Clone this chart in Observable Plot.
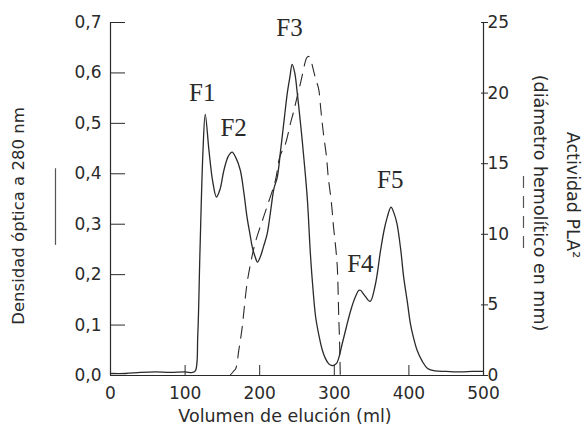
<!DOCTYPE html>
<html>
<head>
<meta charset="utf-8">
<script src="https://cdn.jsdelivr.net/npm/d3@7"></script>
<script src="https://cdn.jsdelivr.net/npm/@observablehq/plot@0.6"></script>
<style>
  html, body { margin: 0; padding: 0; background: #fff; }
  svg { display: block; }
</style>
</head>
<body>
<div id="chart"></div>
<script>
// Absorbance (Densidad óptica a 280 nm) — solid line
const volAbs = [0, 20, 40, 60, 80, 100, 110, 114, 117, 120, 124, 127, 132, 137, 142, 147, 152, 158, 163, 168, 174, 179, 183, 187, 190, 194, 197, 201, 205, 210, 215, 219, 223.5, 228, 233, 237, 240.5, 243.5, 247, 250, 254, 257, 260.5, 264, 268, 271.5, 275, 280, 284, 288, 292.6, 296, 299, 303, 306, 310.6, 316, 322, 328, 333, 335, 341, 348, 355, 362, 367, 371, 376, 380, 384, 389, 393, 398, 402, 406, 411, 418, 425, 435, 450, 470, 485, 500];
const absorb = [0.004, 0.004, 0.006, 0.007, 0.006, 0.007, 0.006, 0.01, 0.08, 0.25, 0.446, 0.518, 0.446, 0.385, 0.354, 0.37, 0.407, 0.435, 0.443, 0.432, 0.407, 0.36, 0.314, 0.28, 0.255, 0.235, 0.225, 0.236, 0.255, 0.281, 0.33, 0.37, 0.393, 0.446, 0.51, 0.56, 0.592, 0.617, 0.6, 0.565, 0.51, 0.466, 0.41, 0.347, 0.24, 0.17, 0.116, 0.075, 0.05, 0.034, 0.023, 0.02, 0.02, 0.024, 0.035, 0.063, 0.095, 0.129, 0.155, 0.169, 0.169, 0.158, 0.147, 0.18, 0.248, 0.29, 0.314, 0.334, 0.322, 0.301, 0.25, 0.195, 0.145, 0.103, 0.076, 0.05, 0.028, 0.014, 0.009, 0.008, 0.007, 0.008, 0.008];

// PLA2 activity (diámetro hemolítico en mm) — dashed line
const volAct = [160, 165, 168, 172, 176, 183, 188, 194, 205, 212, 221, 227, 234.5, 241, 246, 250, 256, 260.5, 263, 265.5, 268, 271.7, 275, 279, 282, 285.5, 289.5, 292, 296, 299, 302, 304, 306, 307, 308];
const activity = [0, 0.3, 0.5, 1.8, 3.2, 6.5, 8.0, 9.4, 11.2, 12.3, 13.8, 15.5, 16.4, 17.8, 18.8, 19.7, 21.0, 22.1, 22.5, 22.6, 22.4, 21.7, 21.0, 20.3, 18.8, 17.1, 15.5, 14.0, 12.3, 10.5, 9.0, 7.7, 4.1, 2.5, 0];

// Axis ticks and labels
const xTicks = [0, 100, 200, 300, 400, 500];
const yLeftTicks = [0, 0.1, 0.2, 0.3, 0.4, 0.5, 0.6, 0.7];
const yRightTicks = [0, 5, 10, 15, 20, 25];
const peakNames = ["F1", "F2", "F3", "F4", "F5"];
const peakVol = [123, 165, 240, 335, 375];
const peakAbs = [0.56, 0.49, 0.69, 0.222, 0.387];

const yMax = 0.7, actMax = 25;
const toLeft = v => v * yMax / actMax;

const absData = volAbs.map((v, i) => ({vol: v, y: absorb[i]}));
const actData = volAct.map((v, i) => ({vol: v, y: toLeft(activity[i])}));
const peaks = peakNames.map((n, i) => ({name: n, vol: peakVol[i], y: peakAbs[i]}));

const ink = "#2a2a2a";
const sans = "'DejaVu Sans', Verdana, sans-serif";
const comma = d => d3.format(".1f")(d).replace(".", ",");

const chart = Plot.plot({
  width: 585,
  height: 427,
  marginLeft: 110,
  marginRight: 102,
  marginTop: 22,
  marginBottom: 52,
  style: {fontFamily: sans, color: ink, background: "#fff"},
  x: {domain: [0, 500]},
  y: {domain: [0, yMax]},
  marks: [
    // frame lines
    Plot.ruleX([0, 500], {stroke: ink, strokeWidth: 1.2}),
    Plot.ruleY([0], {stroke: ink, strokeWidth: 1.2}),
    // x axis: inward ticks + labels
    Plot.axisX({ticks: xTicks, tickSize: -10, tickFormat: () => "", stroke: ink, label: null}),
    Plot.axisX({ticks: xTicks, tickSize: 0, tickPadding: 11, fontSize: 17, fill: ink, label: null}),
    // left y axis
    Plot.axisY({ticks: yLeftTicks, tickSize: -15, tickFormat: () => "", stroke: ink, label: null}),
    Plot.axisY({ticks: yLeftTicks, tickSize: 0, tickPadding: 9, tickFormat: comma, fontSize: 17, fill: ink, label: null}),
    // right y axis (activity)
    Plot.axisY(yRightTicks.map(toLeft), {anchor: "right", tickSize: 4, tickPadding: 0, tickFormat: d => Math.round(d * actMax / yMax), fontSize: 17, fill: ink, stroke: ink, label: null}),
    Plot.axisY(yRightTicks.map(toLeft), {anchor: "right", tickSize: -3, tickFormat: () => "", stroke: ink, label: null}),
    // data lines
    Plot.line(absData, {x: "vol", y: "y", stroke: ink, strokeWidth: 1.3, curve: "catmull-rom"}),
    Plot.line(actData, {x: "vol", y: "y", stroke: ink, strokeWidth: 1.1, strokeDasharray: "12,8", curve: "catmull-rom"}),
    // peak labels
    Plot.text(peaks, {x: "vol", y: "y", text: "name", fontFamily: "'Liberation Serif', 'Times New Roman', serif", fontSize: 25, fill: ink}),
    // axis titles
    Plot.text(["Volumen de elución (ml)"], {frameAnchor: "bottom", textAnchor: "middle", lineAnchor: "middle", dx: -12, dy: 41, fontSize: 17.5, fill: ink}),
    Plot.text(["Densidad óptica a 280 nm"], {frameAnchor: "left", textAnchor: "middle", lineAnchor: "middle", dx: -92, dy: 17, rotate: -90, fontSize: 16.5, fill: ink}),
    Plot.text(["Actividad PLA²"], {frameAnchor: "right", textAnchor: "middle", lineAnchor: "middle", dx: 89, dy: -4, rotate: 90, fontSize: 17.5, fill: ink}),
    Plot.text(["(diámetro hemolítico en mm)"], {frameAnchor: "right", textAnchor: "middle", lineAnchor: "middle", dx: 56, dy: 4, rotate: 90, fontSize: 17.5, fill: ink}),
    // line-style keys beside the titles
    Plot.ruleX([0], {y1: 0.258, y2: 0.41, dx: -55, stroke: "#555", strokeWidth: 1.2}),
    Plot.ruleX([500], {y1: 0.252, y2: 0.41, dx: 40, stroke: "#555", strokeWidth: 1.2, strokeDasharray: "12,8"})
  ]
});
document.getElementById("chart").appendChild(chart);
</script>
</body>
</html>
